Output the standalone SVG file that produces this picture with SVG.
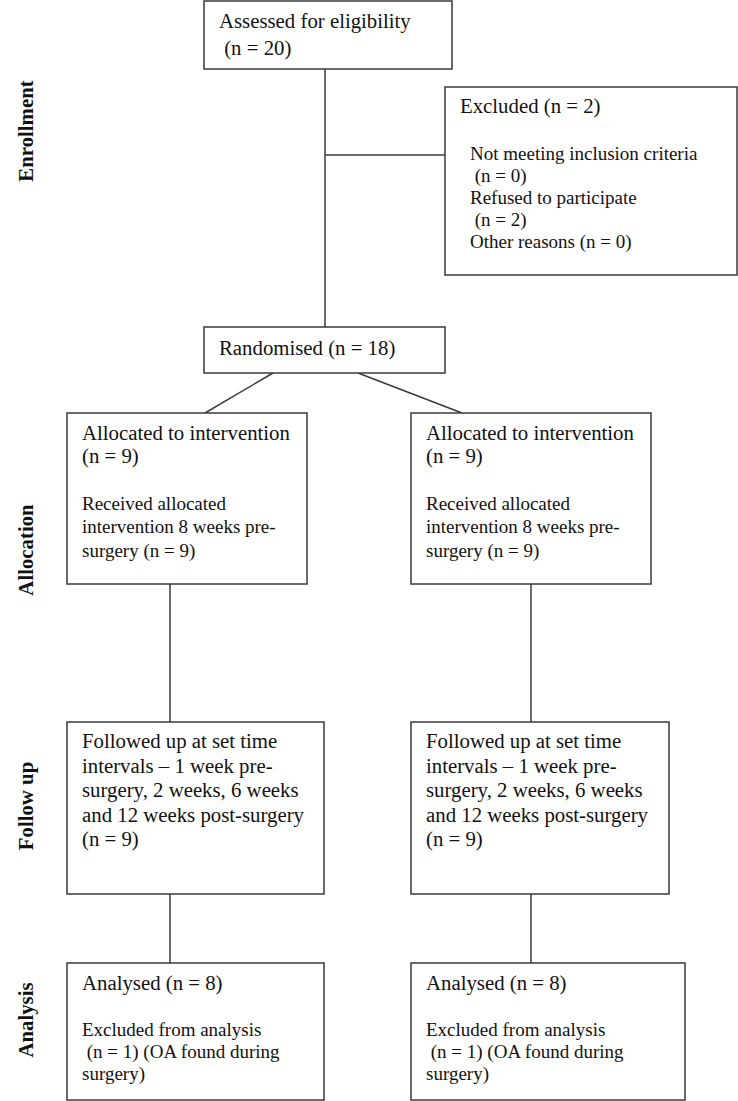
<svg xmlns="http://www.w3.org/2000/svg" width="738" height="1101" viewBox="0 0 738 1101">
<style>
.box{fill:#fff;stroke:#3a3a3a;stroke-width:1.5}
.ln{stroke:#3a3a3a;stroke-width:1.5;fill:none}
text{font-family:"Liberation Serif","Times New Roman",serif;font-size:20.8px;fill:#111}
text.sub{font-size:19px}
.side{font-weight:bold}
</style>
<rect width="738" height="1101" fill="#fff"/>
<g id="connectors">
<line class="ln" x1="325" y1="69" x2="325" y2="327"/>
<line class="ln" x1="325" y1="155" x2="445" y2="155"/>
<line class="ln" x1="273" y1="373" x2="205" y2="413"/>
<line class="ln" x1="358" y1="373" x2="462" y2="413"/>
<line class="ln" x1="170" y1="584" x2="170" y2="722"/>
<line class="ln" x1="531" y1="584" x2="531" y2="722"/>
<line class="ln" x1="170" y1="894" x2="170" y2="963"/>
<line class="ln" x1="531" y1="894" x2="531" y2="963"/>
</g>
<g id="labels">
<text class="side" transform="translate(33,131) rotate(-90)" text-anchor="middle">Enrollment</text>
<text class="side" transform="translate(33,550) rotate(-90)" text-anchor="middle">Allocation</text>
<text class="side" transform="translate(33,806) rotate(-90)" text-anchor="middle">Follow up</text>
<text class="side" transform="translate(33,1020) rotate(-90)" text-anchor="middle">Analysis</text>
</g>
<g id="assessed">
<rect class="box" x="204" y="1" width="248" height="68"/>
<text x="219" y="28">Assessed for eligibility</text>
<text x="219" y="55" xml:space="preserve"> (n = 20)</text>
</g>
<g id="excluded">
<rect class="box" x="445" y="87" width="292" height="188"/>
<text x="460" y="113">Excluded (n = 2)</text>
<text class="sub" x="470" y="160">Not meeting inclusion criteria</text>
<text class="sub" x="470" y="182" xml:space="preserve"> (n = 0)</text>
<text class="sub" x="470" y="204">Refused to participate</text>
<text class="sub" x="470" y="226" xml:space="preserve"> (n = 2)</text>
<text class="sub" x="470" y="248">Other reasons (n = 0)</text>
</g>
<g id="randomised">
<rect class="box" x="204" y="327" width="241" height="46"/>
<text x="219" y="355">Randomised (n = 18)</text>
</g>
<g id="alloc-left">
<rect class="box" x="67" y="413" width="240" height="171"/>
<text x="82" y="440">Allocated to intervention</text>
<text x="82" y="463">(n = 9)</text>
<text class="sub" x="82" y="510">Received allocated</text>
<text class="sub" x="82" y="533">intervention 8 weeks pre-</text>
<text class="sub" x="82" y="557">surgery (n = 9)</text>
</g>
<g id="alloc-right">
<rect class="box" x="411" y="413" width="240" height="171"/>
<text x="426" y="440">Allocated to intervention</text>
<text x="426" y="463">(n = 9)</text>
<text class="sub" x="426" y="510">Received allocated</text>
<text class="sub" x="426" y="533">intervention 8 weeks pre-</text>
<text class="sub" x="426" y="557">surgery (n = 9)</text>
</g>
<g id="follow-left">
<rect class="box" x="67" y="722" width="257" height="172"/>
<text x="82" y="748">Followed up at set time</text>
<text x="82" y="773">intervals – 1 week pre-</text>
<text x="82" y="797">surgery, 2 weeks, 6 weeks</text>
<text x="82" y="822">and 12 weeks post-surgery</text>
<text x="82" y="846">(n = 9)</text>
</g>
<g id="follow-right">
<rect class="box" x="411" y="722" width="258" height="172"/>
<text x="426" y="748">Followed up at set time</text>
<text x="426" y="773">intervals – 1 week pre-</text>
<text x="426" y="797">surgery, 2 weeks, 6 weeks</text>
<text x="426" y="822">and 12 weeks post-surgery</text>
<text x="426" y="846">(n = 9)</text>
</g>
<g id="analysis-left">
<rect class="box" x="67" y="963" width="257" height="137"/>
<text x="82" y="990">Analysed (n = 8)</text>
<text class="sub" x="82" y="1036">Excluded from analysis</text>
<text class="sub" x="82" y="1058" xml:space="preserve"> (n = 1) (OA found during</text>
<text class="sub" x="82" y="1080">surgery)</text>
</g>
<g id="analysis-right">
<rect class="box" x="411" y="963" width="274" height="137"/>
<text x="426" y="990">Analysed (n = 8)</text>
<text class="sub" x="426" y="1036">Excluded from analysis</text>
<text class="sub" x="426" y="1058" xml:space="preserve"> (n = 1) (OA found during</text>
<text class="sub" x="426" y="1080">surgery)</text>
</g>
</svg>
